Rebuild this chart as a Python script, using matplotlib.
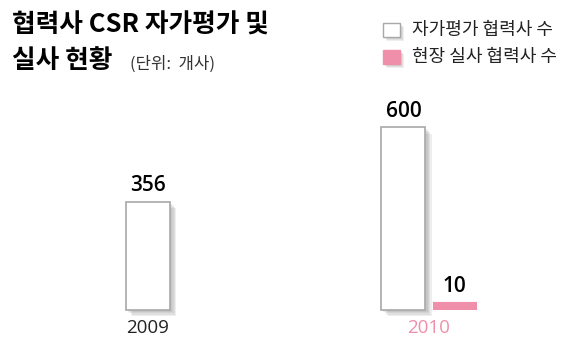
import matplotlib.pyplot as plt
import matplotlib.patheffects as pe
import numpy as np

plt.rcParams['font.family'] = ['Noto Sans CJK KR', 'DejaVu Sans']

years = ['2009', '2010']
self_eval = [356, 600]      # 자가평가 협력사 수
onsite = [None, 10]         # 현장 실사 협력사 수
legend_labels = ['자가평가 협력사 수', '현장 실사 협력사 수']

pink = '#ef8faa'
edge = '#a8a8a8'
num_font = ['Open Sans', 'DejaVu Sans']
w = 0.157
gap = 0.025


def soft_shadow(step=1.0):
    # stacked faint offsets give a blurred drop shadow
    fx = [pe.SimplePatchShadow(offset=(k * step, -k * step), shadow_rgbFace='#777777',
                               alpha=0.12) for k in (1.5, 2.5, 3.5, 4.5)]
    return fx + [pe.Normal()]


fig = plt.figure(figsize=(5.7, 3.38), dpi=100)
ax = fig.add_axes([0, 0, 1, 238 / 338])
ax.set_xlim(-148 / 281, 422 / 281)
ax.set_ylim(-92, 690)
ax.axis('off')

# everything below the baseline is hidden
above_base = plt.Rectangle((-10, 0), 20, 2000, transform=ax.transData)

x = np.arange(len(years))
for i, yr in enumerate(years):
    has_pink = onsite[i] is not None
    xw = x[i] - (w + gap) / 2 if has_pink else x[i]
    b = ax.bar(xw, self_eval[i], width=w, color='white', edgecolor=edge, linewidth=1.2)
    b[0].set_path_effects(soft_shadow())
    ax.text(xw, self_eval[i] + 18, str(self_eval[i]), ha='center', va='bottom',
            fontsize=15, family=num_font, fontweight='semibold')
    if has_pink:
        xp = x[i] + (w + gap) / 2
        # thick outline keeps the small bar visible
        p = ax.bar(xp, onsite[i], width=w - 11 / 281, color=pink, edgecolor=pink,
                   linewidth=8, joinstyle='miter')
        p[0].set_clip_path(above_base)
        p[0].set_path_effects(soft_shadow(0.8))
        ax.text(xp, onsite[i] + 32, str(onsite[i]), ha='center', va='bottom',
                fontsize=15, family=num_font, fontweight='semibold')
    ax.text(x[i], -76, yr, ha='center', va='baseline', fontsize=13.5,
            family=num_font, color=pink if has_pink else '#222222')

# title
fig.text(12 / 570, 1 - 25 / 338, '협력사 CSR 자가평가 및', fontsize=18.5, fontweight='bold',
         va='center', ha='left')
fig.text(12 / 570, 1 - 61 / 338, '실사 현황', fontsize=18.5, fontweight='bold',
         va='center', ha='left')
fig.text(130 / 570, 1 - 64 / 338, '(단위:  개사)', fontsize=12, va='center', ha='left',
         color='#333333')

# legend
for j, (lab, fc, ec) in enumerate(zip(legend_labels, ['white', pink], [edge, pink])):
    yc = 1 - (30 + j * 27) / 338
    rect = plt.Rectangle((383 / 570, yc - 7 / 338), 17 / 570, 14 / 338,
                         transform=fig.transFigure, facecolor=fc, edgecolor=ec,
                         linewidth=1)
    rect.set_path_effects(soft_shadow(0.6))
    fig.patches.append(rect)
    fig.text(412 / 570, yc, lab, fontsize=13, va='center', ha='left', color='#222222')

fig.savefig('out.png', dpi=100)
